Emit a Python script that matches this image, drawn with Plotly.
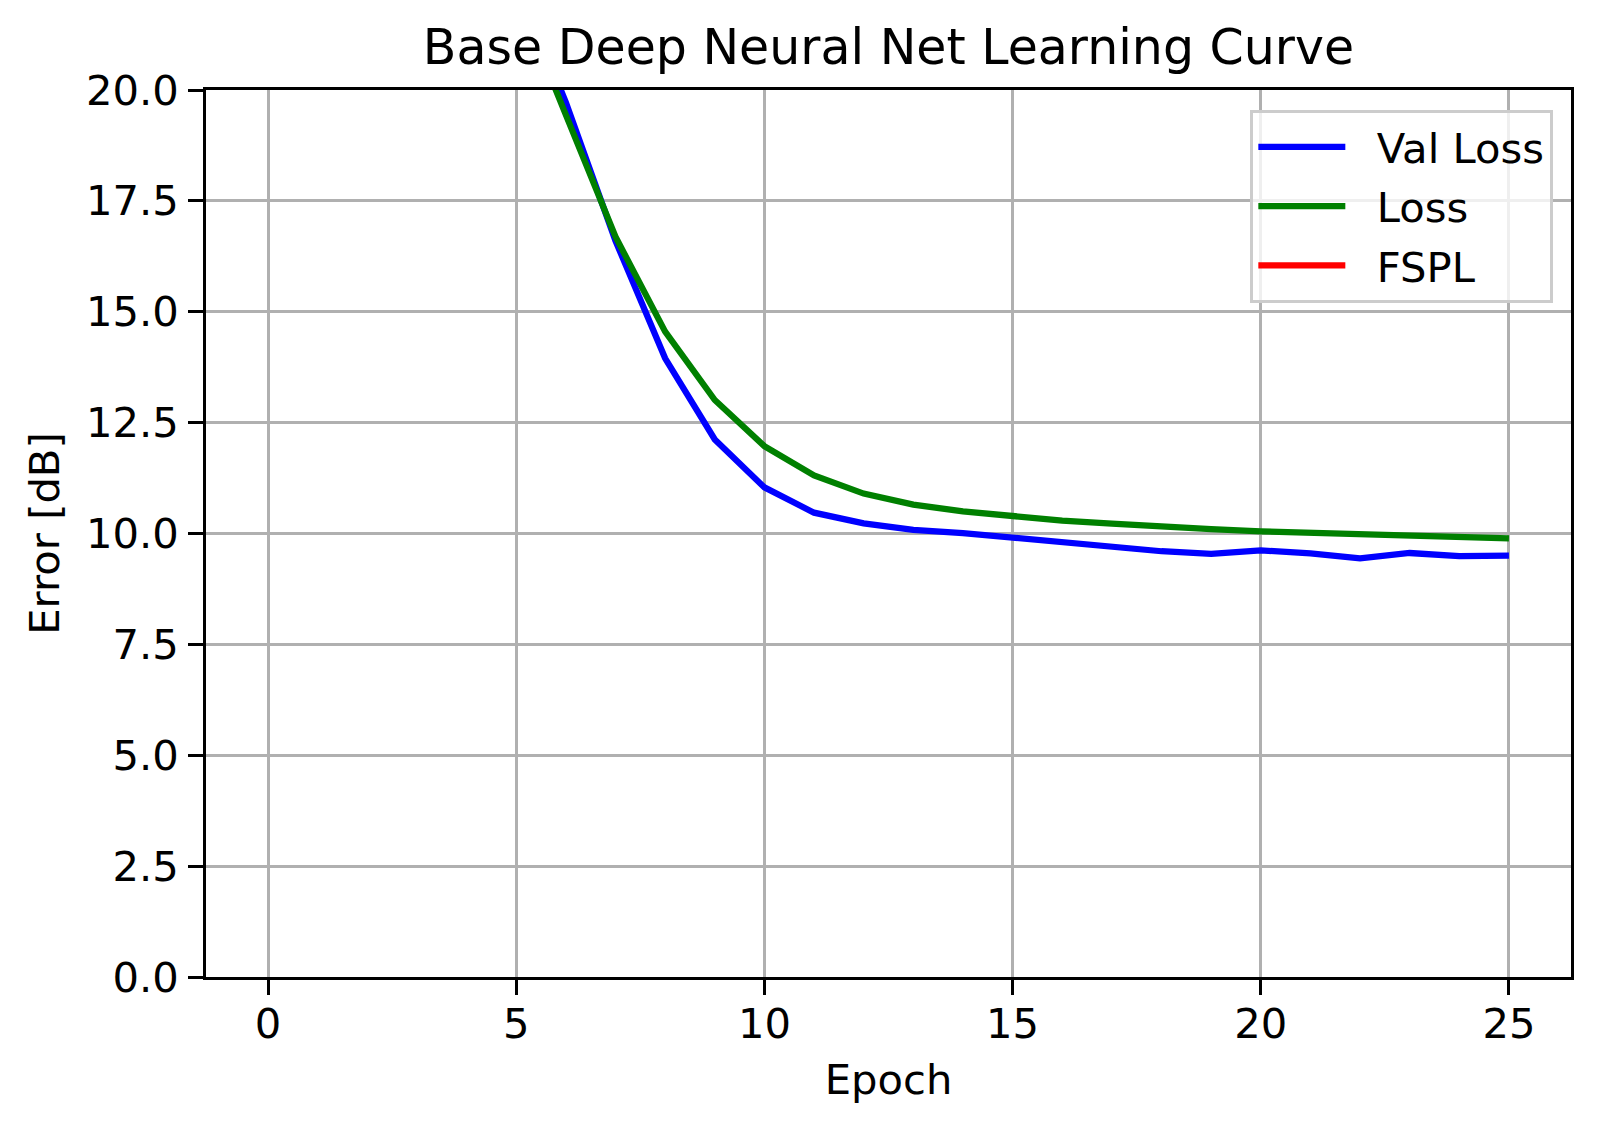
import plotly.graph_objects as go

epochs = list(range(26))
val_loss = [52.0, 39.0, 31.5, 27.0, 24.4, 22.5, 19.72, 16.6, 13.95, 12.12, 11.04,
            10.47, 10.23, 10.08, 10.01, 9.91, 9.78, 9.71, 9.60, 9.54, 9.62,
            9.55, 9.44, 9.56, 9.49, 9.50]
loss = [62.0, 45.0, 34.5, 28.4, 24.6, 22.2, 19.44, 16.69, 14.55, 13.01, 11.97,
        11.31, 10.90, 10.65, 10.50, 10.38, 10.29, 10.22, 10.15, 10.10, 10.05,
        10.02, 9.98, 9.95, 9.92, 9.89]
fspl = [23.5] * 26

series_names = ["Val Loss", "Loss", "FSPL"]
y_ticks = [0, 2.5, 5, 7.5, 10, 12.5, 15, 17.5, 20]
x_ticks = [0, 5, 10, 15, 20, 25]

FONT = "DejaVu Sans"
FS = 41.7
W, H = 1600, 1131
L, R, T, B = 198, 1563, 82, 969

fig = go.Figure()
for name, ys, col in zip(series_names, [val_loss, loss, fspl],
                         ["#0000ff", "#008000", "#ff0000"]):
    fig.add_trace(go.Scatter(x=epochs, y=ys, mode="lines",
                             name="\u00a0\u00a0" + name, legendgroup=name,
                             line=dict(color=col, width=6.25)))

axis_common = dict(
    showline=True, linecolor="black", linewidth=3.33, mirror=True,
    showgrid=True, gridcolor="#b0b0b0", gridwidth=3.33,
    ticks="outside", ticklen=14.6, tickwidth=3.33, tickcolor="black",
    tickfont=dict(family=FONT, size=FS, color="black"),
    zeroline=False,
)

fig.update_layout(
    width=W, height=H,
    paper_bgcolor="white", plot_bgcolor="white",
    margin=dict(l=L, r=W - R, t=T, b=H - B, pad=0),
    font=dict(family=FONT, color="black"),
    title=dict(text="Base Deep Neural Net Learning Curve",
               font=dict(family=FONT, size=49, color="black"),
               x=(L + R) / 2 / W, xanchor="center",
               y=1 - 39 / H, yanchor="middle"),
    xaxis=dict(range=[-1.25, 26.25], tickvals=x_ticks,
               ticktext=[str(v) for v in x_ticks],
               ticklabelstandoff=-7,
               title=dict(text="Epoch", font=dict(family=FONT, size=FS), standoff=19),
               **axis_common),
    yaxis=dict(range=[0, 20], tickvals=y_ticks,
               ticktext=[f"{v:.1f}" for v in y_ticks],
               ticklabelstandoff=1,
               title=dict(text="Error [dB]", font=dict(family=FONT, size=FS), standoff=14),
               **axis_common),
    legend=dict(x=(1545 - L) / (R - L), xanchor="right",
                y=1 - (102 - T) / (B - T), yanchor="top",
                bgcolor="rgba(255,255,255,0.8)", bordercolor="#cccccc", borderwidth=3.33,
                font=dict(family=FONT, size=FS, color="black"),
                itemwidth=87, tracegroupgap=2),
    showlegend=True,
)

fig.write_html("out.html")
